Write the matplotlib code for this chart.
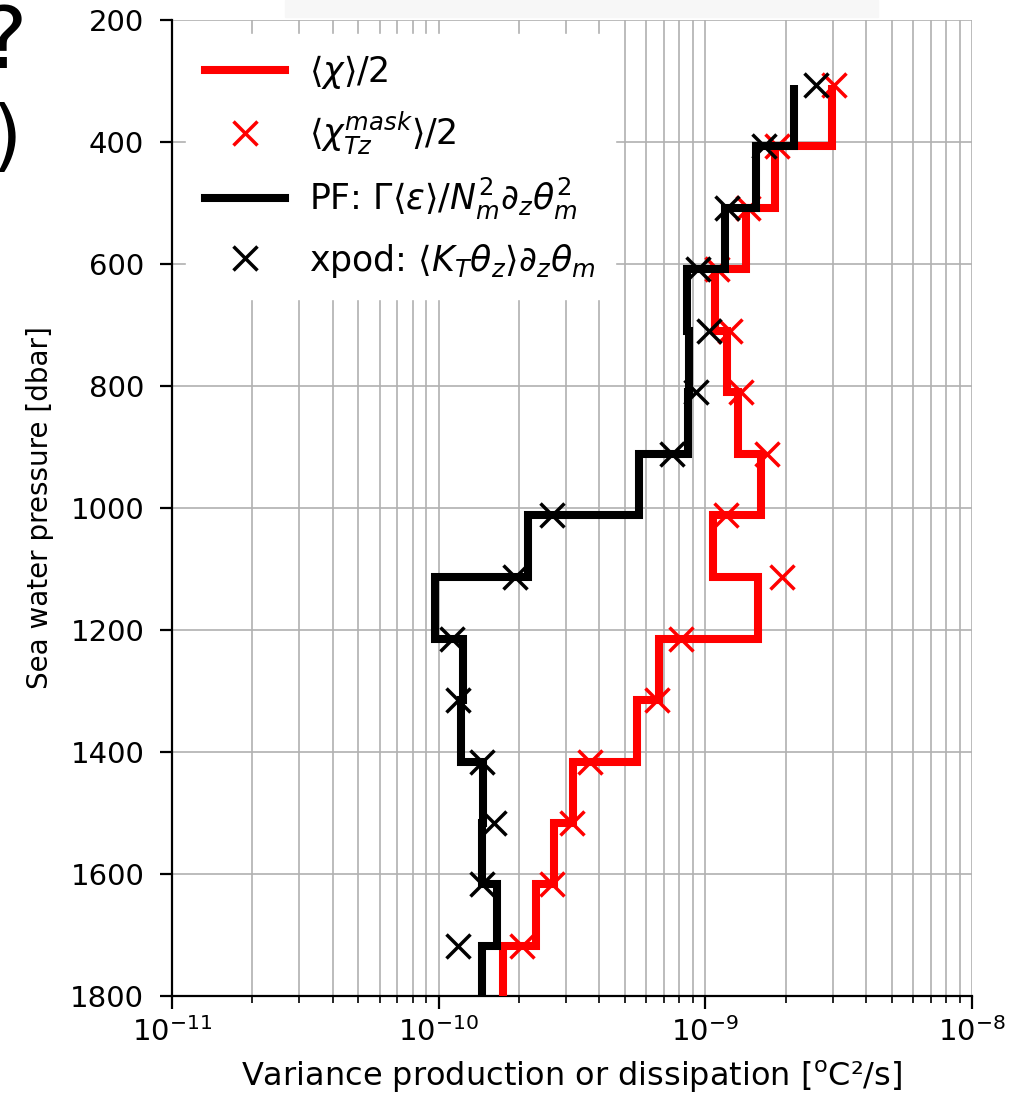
import numpy as np
import matplotlib
matplotlib.use("Agg")
import matplotlib.pyplot as plt
from matplotlib.patches import Rectangle
from matplotlib.ticker import LogLocator, NullFormatter

# pressure levels [dbar]: top of each 100 dbar bin, last edge below the axis
P_EDGES = [306, 407, 508, 609, 710, 810, 911, 1012, 1113, 1214,
           1315, 1416, 1517, 1617, 1718, 1819]
P_LEVELS = P_EDGES[:-1]

# <chi>/2 (red steps)
chi_half = [2.99e-9, 1.83e-9, 1.42e-9, 1.09e-9, 1.21e-9, 1.33e-9, 1.62e-9,
            1.07e-9, 1.58e-9, 6.73e-10, 5.56e-10, 3.18e-10, 2.70e-10,
            2.31e-10, 1.74e-10]
# <chi_Tz^mask>/2 (red crosses)
chi_mask = [3.04e-9, 1.86e-9, 1.44e-9, 1.11e-9, 1.24e-9, 1.36e-9, 1.71e-9,
            1.20e-9, 1.94e-9, 8.1e-10, 6.6e-10, 3.68e-10, 3.15e-10,
            2.65e-10, 2.05e-10]
# PF estimate (black steps)
pf = [2.15e-9, 1.55e-9, 1.19e-9, 8.5e-10, 8.7e-10, 8.6e-10, 5.66e-10,
      2.17e-10, 9.7e-11, 1.23e-10, 1.21e-10, 1.47e-10, 1.45e-10,
      1.66e-10, 1.45e-10]
# xpod (black crosses)
xpod = [2.61e-9, 1.66e-9, 1.21e-9, 9.4e-10, 1.03e-9, 9.25e-10, 7.5e-10,
        2.65e-10, 1.93e-10, 1.12e-10, 1.18e-10, 1.45e-10, 1.61e-10,
        1.46e-10, 1.18e-10]

LABELS = [r"$\langle\chi\rangle/2$",
          r"$\langle\chi_{Tz}^{mask}\rangle/2$",
          r"PF: $\Gamma\langle\varepsilon\rangle/N_m^2\partial_z\theta_m^2$",
          r"xpod: $\langle K_T\theta_z\rangle\partial_z\theta_m$"]

fig = plt.figure(figsize=(10.13, 11.08), dpi=100)
ax = fig.add_axes([172 / 1013, 1 - 996 / 1108, 800 / 1013, 976 / 1108])

# faint bits left over from the neighbouring panel
fig.patches.append(Rectangle((285 / 1013, 1 - 17 / 1108), 593 / 1013, 17 / 1108,
                             transform=fig.transFigure, color="#f7f7f7", zorder=0))
fig.text(27 / 1013, 1 - 68 / 1108, "?", fontsize=62, ha="right", va="baseline")
fig.text(22 / 1013, 1 - 162 / 1108, ")", fontsize=56, ha="right", va="baseline")

ax.stairs(chi_half, P_EDGES, orientation="horizontal", baseline=None,
          color="red", linewidth=5.8, label=LABELS[0], zorder=3)
ax.plot(chi_mask, P_LEVELS, "x", color="red", markersize=17,
        markeredgewidth=2.5, label=LABELS[1], zorder=4)
ax.stairs(pf, P_EDGES, orientation="horizontal", baseline=None,
          color="black", linewidth=5.8, label=LABELS[2], zorder=5)
ax.plot(xpod, P_LEVELS, "x", color="black", markersize=17,
        markeredgewidth=2.5, label=LABELS[3], zorder=6)

ax.set_xscale("log")
ax.set_xlim(1e-11, 1e-8)
ax.set_ylim(1800, 200)
ax.set_yticks(np.arange(200, 1801, 200))
ax.xaxis.set_minor_locator(LogLocator(base=10, subs=np.arange(2, 10)))
ax.xaxis.set_minor_formatter(NullFormatter())

ax.grid(True, which="major", color="#b0b0b0", linewidth=1.2)
ax.grid(True, which="minor", axis="x", color="#b0b0b0", linewidth=1.2)
ax.set_axisbelow(True)

for side in ["top", "right"]:
    ax.spines[side].set_visible(False)
for side in ["left", "bottom"]:
    ax.spines[side].set_linewidth(1.6)

ax.tick_params(which="major", length=9, width=1.6, labelsize=21, pad=6)
ax.tick_params(axis="y", which="major", pad=11)
ax.tick_params(which="minor", length=5, width=1.2)

ax.set_xlabel(r"Variance production or dissipation [$^{\rm o}$C²/s]",
              fontsize=23, labelpad=9)
ax.set_ylabel("Sea water pressure [dbar]", fontsize=20, labelpad=12)

leg = ax.legend(loc="upper left", fontsize=25, handlelength=2.3,
                handletextpad=0.7, labelspacing=0.55, borderpad=0.55,
                borderaxespad=0.4, frameon=True, framealpha=1.0,
                edgecolor="white", fancybox=False)

fig.savefig("out.png", dpi=100)
